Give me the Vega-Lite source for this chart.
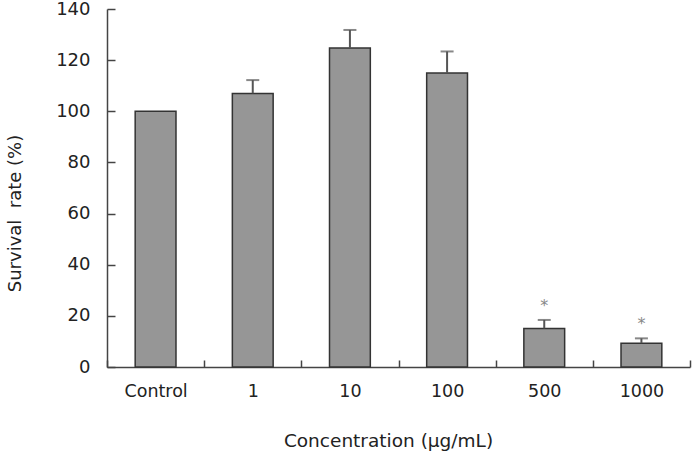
{
  "$schema": "https://vega.github.io/schema/vega-lite/v6.json",
  "autosize": {"type": "none"},
  "width": 583,
  "height": 358,
  "padding": {"left": 107, "top": 9, "right": 2, "bottom": 87},
  "background": "white",
  "config": {
    "view": {"stroke": null},
    "font": "DejaVu Sans",
    "axis": {
      "domainColor": "#444444",
      "domainWidth": 1.5,
      "tickColor": "#444444",
      "tickWidth": 1.5,
      "grid": false,
      "labelColor": "#222222",
      "titleColor": "#222222",
      "labelFont": "DejaVu Sans",
      "titleFont": "DejaVu Sans",
      "titleFontWeight": "normal"
    }
  },
  "data": {
    "values": [
      {"conc": "Control", "rate": 100, "upper": null, "mark": ""},
      {"conc": "1", "rate": 107.0, "upper": 112.2, "mark": ""},
      {"conc": "10", "rate": 124.7, "upper": 131.8, "mark": ""},
      {"conc": "100", "rate": 115.0, "upper": 123.4, "mark": ""},
      {"conc": "500", "rate": 15.1, "upper": 18.4, "mark": "*"},
      {"conc": "1000", "rate": 9.3, "upper": 11.2, "mark": "*"}
    ]
  },
  "encoding": {
    "x": {
      "field": "conc",
      "type": "nominal",
      "sort": null,
      "scale": {"paddingInner": 0, "paddingOuter": 0},
      "axis": {
        "title": "Concentration (μg/mL)",
        "labelAngle": 0,
        "labelFontSize": 17.5,
        "titleFontSize": 18.5,
        "tickBand": "extent",
        "tickSize": -7,
        "labelPadding": 22,
        "titleX": 281,
        "titleY": 73,
        "titleBaseline": "middle",
        "titleAnchor": "middle"
      }
    }
  },
  "layer": [
    {
      "mark": {"type": "bar", "width": {"band": 0.42}, "fill": "#969696", "stroke": "#333333", "strokeWidth": 1.5},
      "encoding": {
        "y": {
          "field": "rate",
          "type": "quantitative",
          "scale": {"domain": [0, 140], "nice": false},
          "axis": {
            "title": "Survival\u00a0 rate (%)",
            "values": [0, 20, 40, 60, 80, 100, 120, 140],
            "labelFontSize": 18,
            "titleFontSize": 18,
            "tickSize": -8,
            "labelPadding": 25,
            "titleX": -92,
            "titleY": 204,
            "titleBaseline": "middle",
            "titleAnchor": "middle"
          }
        }
      }
    },
    {
      "transform": [{"filter": "datum.upper != null"}],
      "mark": {"type": "rule", "color": "#555555", "strokeWidth": 2},
      "encoding": {
        "y": {"field": "rate", "type": "quantitative"},
        "y2": {"field": "upper"}
      }
    },
    {
      "transform": [{"filter": "datum.upper != null"}],
      "mark": {"type": "tick", "color": "#555555", "size": 13, "thickness": 2},
      "encoding": {
        "y": {"field": "upper", "type": "quantitative"}
      }
    },
    {
      "transform": [{"filter": "datum.mark != ''"}],
      "mark": {"type": "text", "color": "#888888", "fontSize": 16, "dy": -14, "baseline": "middle"},
      "encoding": {
        "y": {"field": "upper", "type": "quantitative"},
        "text": {"field": "mark"}
      }
    }
  ]
}
